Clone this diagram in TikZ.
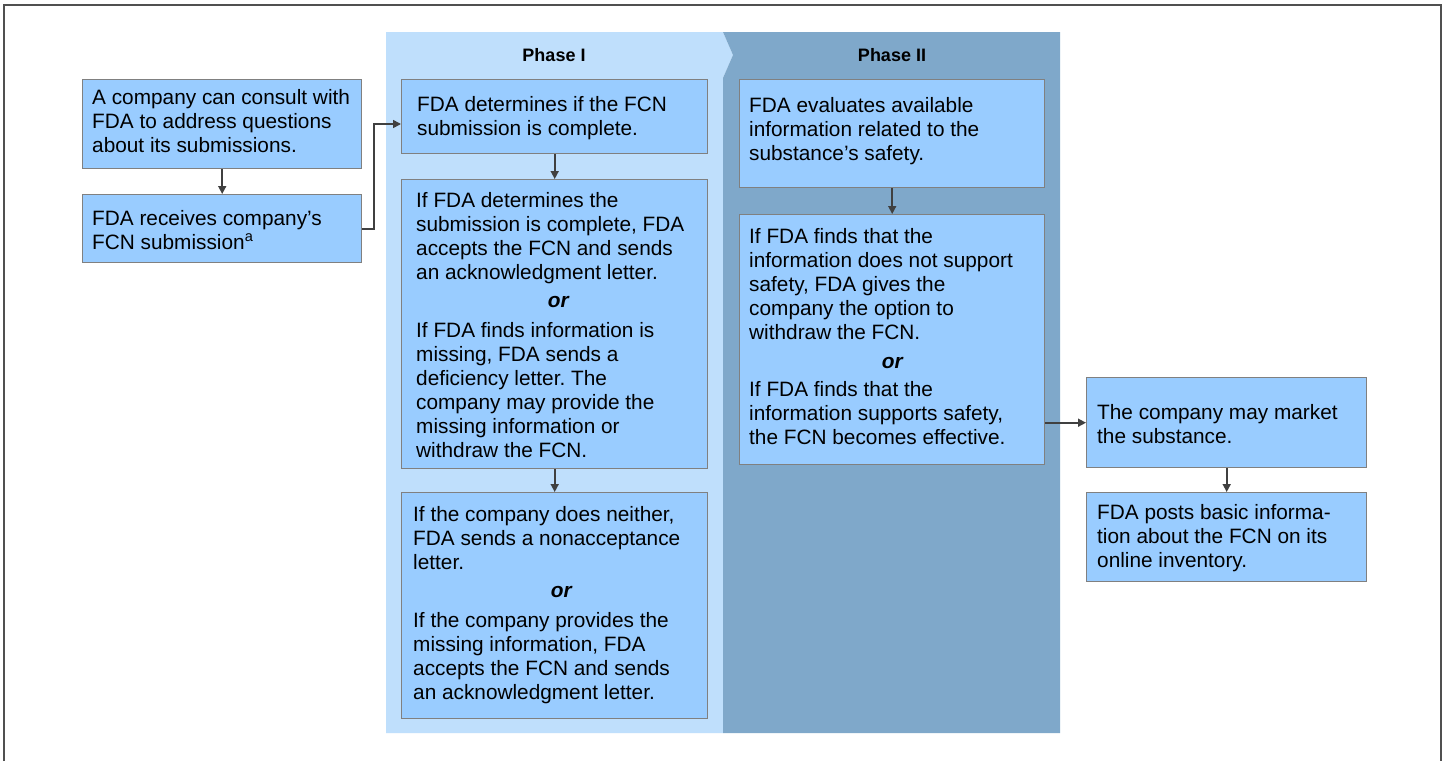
\documentclass[tikz,border=0pt]{standalone}
\usepackage{fontspec}
\setmainfont{Liberation Sans}
\usetikzlibrary{arrows.meta,calc}
\definecolor{phaseone}{HTML}{BFDFFC}
\definecolor{phasetwo}{HTML}{7FA8CA}
\definecolor{boxfill}{HTML}{99CCFF}
\definecolor{boxline}{HTML}{808080}
\definecolor{arrowc}{HTML}{404040}
\definecolor{framec}{HTML}{505050}
\newcommand\bodyfont{\fontsize{20.8}{24}\selectfont\frenchspacing}
\newcommand\hdrfont{\fontsize{18}{22}\selectfont\bfseries}
\newcommand\orline[1]{\makebox[#1]{\bfseries\itshape or}}
\tikzset{
  box/.style={draw=boxline, fill=boxfill, line width=1.4pt, inner sep=0pt, anchor=north west},
  txt/.style={anchor=base west, inner sep=0pt, font=\bodyfont},
  hdr/.style={anchor=base, inner sep=0pt, font=\hdrfont},
  conn/.style={draw=arrowc, line width=1.6pt, -{Triangle[length=8pt,width=8pt]}},
  framestyle/.style={draw=framec, line width=1.5pt}
}
\begin{document}
\begin{tikzpicture}[x=1pt,y=-1pt]
\useasboundingbox (0,0) rectangle (1447,761);
\fill[white] (0,0) rectangle (1447,761);
% outer frame
\draw[framestyle] (4,761) -- (4,5) -- (1441,5) -- (1441,761);
% phase backgrounds
\fill[phaseone] (386,32) -- (723,32) -- (733,55) -- (723,78) -- (723,733) -- (386,733) -- cycle;
\fill[phasetwo] (723,32) -- (1060,32) -- (1060,733) -- (723,733) -- (723,78) -- (733,55) -- cycle;
\node[hdr] (h1) at (554,61) {Phase I};
\node[hdr] (h2) at (892,61) {Phase II};
% boxes
\node[box, minimum width=279pt, minimum height=89pt] (l1) at (82,79) {};
\node[box, minimum width=279pt, minimum height=68pt] (l2) at (82,194) {};
\node[box, minimum width=306pt, minimum height=74pt] (p1a) at (401,79) {};
\node[box, minimum width=306pt, minimum height=289pt] (p1b) at (401,179) {};
\node[box, minimum width=306pt, minimum height=226pt] (p1c) at (401,492) {};
\node[box, minimum width=305pt, minimum height=108pt] (p2a) at (739,79) {};
\node[box, minimum width=305pt, minimum height=250pt] (p2b) at (739,214) {};
\node[box, minimum width=280pt, minimum height=90pt] (r1) at (1086,377) {};
\node[box, minimum width=280pt, minimum height=89pt] (r2) at (1086,492) {};
% texts
\node[txt] (tl1) at (92,104) {\parbox[t]{300pt}{\raggedright A company can consult with\\FDA to address questions\\about its submissions.}};
\node[txt] (tl2) at (92,225) {\parbox[t]{300pt}{\raggedright FDA receives company’s\\FCN submission\textsuperscript{a}}};
\node[txt] (tp1a) at (417,111) {\parbox[t]{300pt}{\raggedright FDA determines if the FCN\\submission is complete.}};
\node[txt] (tp1b) at (416,207) {\parbox[t]{300pt}{\raggedright If FDA determines the\\submission is complete, FDA\\accepts the FCN and sends\\an acknowledgment letter.\\[4pt]\orline{284pt}\\[6pt]If FDA finds information is\\missing, FDA sends a\\deficiency letter. The\\company may provide the\\missing information or\\withdraw the FCN.}};
\node[txt] (tp1c) at (413,521) {\parbox[t]{300pt}{\raggedright If the company does neither,\\FDA sends a nonacceptance\\letter.\\[4pt]\orline{296pt}\\[6pt]If the company provides the\\missing information, FDA\\accepts the FCN and sends\\an acknowledgment letter.}};
\node[txt] (tp2a) at (749,112) {\parbox[t]{300pt}{\raggedright FDA evaluates available\\information related to the\\substance’s safety.}};
\node[txt] (tp2b) at (749,243) {\parbox[t]{300pt}{\raggedright If FDA finds that the\\information does not support\\safety, FDA gives the\\company the option to\\withdraw the FCN.\\[5pt]\orline{286pt}\\[4pt]If FDA finds that the\\information supports safety,\\the FCN becomes effective.}};
\node[txt] (tr1) at (1097,419) {\parbox[t]{300pt}{\raggedright The company may market\\the substance.}};
\node[txt] (tr2) at (1097,519) {\parbox[t]{300pt}{\raggedright FDA posts basic informa-\\tion about the FCN on its\\online inventory.}};
% connectors
\coordinate (k1) at (374,124);
\draw[conn] (l1.south) -- (l2.north);
\draw[conn] (l2.east) -| (k1) -- (p1a.west |- k1);
\draw[conn] (p1a.south) -- (p1b.north);
\draw[conn] (p1b.south) -- (p1c.north);
\draw[conn] (p2a.south) -- (p2b.north);
\draw[conn] (p2b.east |- r1.west) -- (r1.west);
\draw[conn] (r1.south) -- (r2.north);
\end{tikzpicture}
\end{document}
